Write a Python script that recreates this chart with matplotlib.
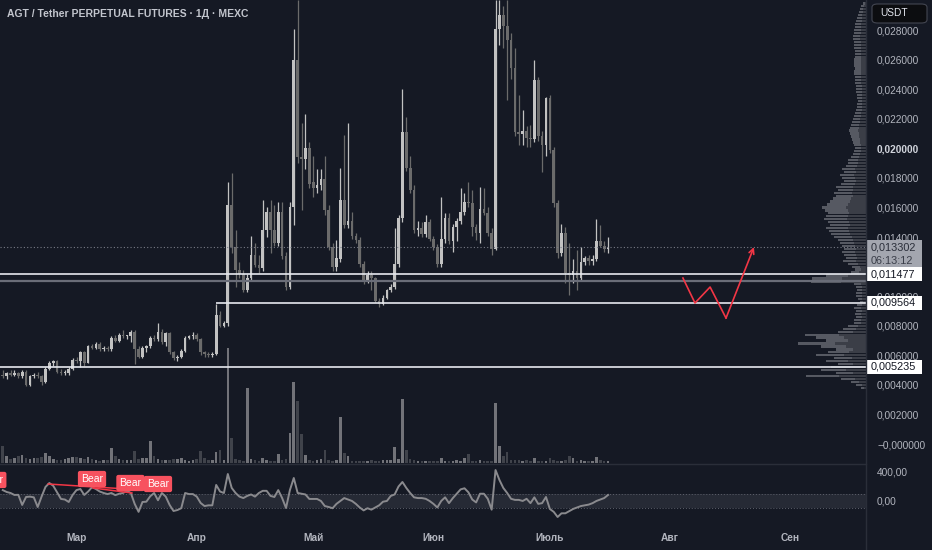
import numpy as np
import pandas as pd
import matplotlib
matplotlib.use('Agg')
import matplotlib.pyplot as plt
import matplotlib.dates as mdates
import matplotlib.transforms as mtransforms
from matplotlib.patches import FancyBboxPatch, Rectangle
from matplotlib.lines import Line2D

plt.rcParams['font.family'] = ['Liberation Sans', 'DejaVu Sans']

# --- данные (дневные свечи AGT/USDT, 10 фев - 16 июл) ---
start_date = '2025-02-10'
opens = [.0047, .0046, .0048, .0047, .0048, .0046, .0049, .0040, .0046, .0047,
         .0046, .0042, .0051, .0055, .0056, .0049, .0048, .0048, .0051,
         .0057, .0056, .0062, .0055, .0066, .0065, .0068, .0064, .0065, .0064,
         .0072, .0070, .0074, .0073, .0073, .0076, .0064, .0059, .0065, .0066,
         .0072, .0071, .0076, .0069, .0075, .0062, .0058, .0059, .0063, .0072,
         .0073, .0074, .0071, .0062, .0061, .0060, .0061, .0087, .0080, .0082,
         .0162, .0133, .0118, .0115, .0104, .0112, .0128, .0121, .0119, .0145,
         .0157, .0145, .0136, .0157, .0127, .0106, .0160, .0260, .0194, .0193,
         .0200, .0177, .0173, .0175, .0179, .0158, .0133, .0120, .0125, .0165,
         .0148, .0151, .0141, .0138, .0122, .0111, .0114, .0112, .0097, .0095,
         .0099, .0104, .0106, .0122, .0153, .0211, .0187, .0172, .0145, .0146,
         .0142, .0150, .0139, .0133, .0122, .0139, .0153, .0137, .0147, .0151,
         .0157, .0164, .0163, .0147, .0143, .0159, .0156, .0143, .0132, .0281,
         .0290, .0283, .0273, .0254, .0211, .0210, .0212, .0207, .0206, .0246,
         .0208, .0202, .0234, .0199, .0163, .0129, .0143, .0116, .0114, .0117,
         .0112, .0123, .0126, .0124, .0125, .0137, .0134, .0132]
highs = [.0050, .0049, .0050, .0050, .0049, .0050, .0050, .0047, .0048, .0049,
         .0047, .0052, .0056, .0057, .0057, .0051, .0050, .0052, .0058,
         .0059, .0063, .0063, .0067, .0068, .0069, .0069, .0066, .0066, .0073,
         .0074, .0075, .0077, .0074, .0077, .0077, .0066, .0066, .0067, .0073,
         .0074, .0082, .0078, .0076, .0076, .0063, .0060, .0064, .0073, .0074,
         .0076, .0075, .0072, .0063, .0062, .0062, .0095, .0090, .0083, .0177,
         .0183, .0145, .0123, .0118, .0115, .0141, .0136, .0128, .0165, .0160,
         .0165, .0162, .0164, .0164, .0130, .0164, .0281, .0300, .0217, .0223,
         .0204, .0195, .0186, .0186, .0195, .0162, .0136, .0138, .0187, .0209,
         .0217, .0157, .0143, .0140, .0124, .0117, .0117, .0113, .0099, .0101,
         .0105, .0108, .0146, .0155, .0240, .0221, .0195, .0175, .0151, .0150,
         .0155, .0152, .0141, .0135, .0167, .0156, .0156, .0149, .0153, .0173,
         .0170, .0177, .0172, .0149, .0174, .0173, .0160, .0146, .0300, .0300,
         .0296, .0300, .0278, .0268, .0236, .0226, .0215, .0216, .0260, .0248,
         .0212, .0235, .0236, .0201, .0165, .0149, .0147, .0136, .0125, .0131,
         .0133, .0127, .0128, .0128, .0152, .0148, .0137, .0140]
lows = [.0045, .0044, .0046, .0046, .0045, .0045, .0039, .0039, .0045, .0045,
        .0040, .0041, .0050, .0053, .0048, .0047, .0047, .0047, .0050,
        .0055, .0052, .0053, .0055, .0064, .0064, .0063, .0063, .0063, .0063,
        .0069, .0069, .0072, .0071, .0069, .0054, .0058, .0058, .0062, .0065,
        .0070, .0070, .0068, .0066, .0061, .0057, .0056, .0058, .0062, .0071,
        .0071, .0070, .0060, .0059, .0059, .0059, .0060, .0079, .0079, .0080,
        .0129, .0106, .0112, .0103, .0103, .0110, .0120, .0116, .0117, .0140,
        .0129, .0134, .0134, .0125, .0104, .0105, .0148, .0190, .0158, .0186,
        .0173, .0167, .0170, .0172, .0155, .0131, .0117, .0117, .0123, .0146,
        .0146, .0139, .0136, .0120, .0108, .0109, .0104, .0096, .0093, .0094,
        .0098, .0103, .0105, .0120, .0150, .0185, .0170, .0143, .0141, .0140,
        .0140, .0137, .0131, .0120, .0120, .0136, .0135, .0130, .0137, .0149,
        .0155, .0160, .0141, .0138, .0136, .0155, .0141, .0128, .0131, .0270,
        .0268, .0233, .0247, .0208, .0202, .0202, .0201, .0201, .0204, .0205,
        .0184, .0195, .0197, .0160, .0126, .0127, .0109, .0101, .0109, .0104,
        .0110, .0121, .0121, .0121, .0124, .0133, .0130, .0129]
closes = [.0046, .0048, .0047, .0048, .0046, .0049, .0040, .0046, .0047, .0046,
          .0042, .0051, .0055, .0056, .0049, .0048, .0048, .0051, .0057,
          .0056, .0062, .0055, .0066, .0065, .0068, .0064, .0065, .0064, .0072,
          .0070, .0074, .0073, .0073, .0076, .0064, .0059, .0065, .0066, .0072,
          .0071, .0076, .0069, .0075, .0062, .0058, .0059, .0063, .0072, .0073,
          .0074, .0071, .0062, .0061, .0060, .0061, .0087, .0080, .0082, .0162,
          .0133, .0118, .0115, .0104, .0112, .0128, .0121, .0119, .0145, .0157,
          .0145, .0136, .0157, .0127, .0106, .0160, .0260, .0194, .0193, .0200,
          .0176, .0173, .0175, .0179, .0158, .0133, .0120, .0126, .0165, .0148,
          .0151, .0141, .0138, .0122, .0111, .0114, .0112, .0097, .0095, .0099,
          .0104, .0106, .0122, .0153, .0211, .0187, .0172, .0145, .0146, .0142,
          .0150, .0139, .0133, .0122, .0139, .0153, .0137, .0147, .0151, .0157,
          .0164, .0163, .0147, .0143, .0159, .0156, .0143, .0132, .0281, .0290,
          .0283, .0273, .0254, .0211, .0210, .0212, .0207, .0206, .0246, .0208,
          .0202, .0234, .0199, .0163, .0129, .0143, .0116, .0114, .0117, .0112,
          .0123, .0126, .0124, .0125, .0137, .0134, .0132, .0133]
volumes = [17, 7, 4, 5, 7, 8, 5, 4, 5, 5, 6, 10, 7, 4, 3, 3, 4, 5, 6,
           6, 5, 4, 6, 4, 3, 2, 3, 3, 15, 7, 4, 3, 3, 3, 12, 4, 5, 5, 22,
           7, 4, 3, 3, 3, 4, 4, 5, 3, 2, 3, 4, 12, 5, 3, 3, 11, 13, 3, 115,
           25, 4, 3, 2, 75, 4, 3, 2, 5, 3, 2, 2, 9, 3, 4, 30, 81, 62, 29, 8,
           3, 2, 3, 4, 13, 3, 2, 3, 46, 10, 7, 2, 2, 2, 2, 2, 3, 2, 2, 3,
           3, 3, 16, 4, 64, 13, 4, 3, 2, 2, 2, 2, 2, 2, 5, 2, 2, 2, 3, 2,
           5, 9, 2, 2, 3, 2, 2, 2, 60, 17, 7, 11, 3, 3, 3, 2, 3, 2, 5, 2,
           2, 2, 5, 3, 2, 2, 3, 7, 5, 2, 3, 2, 2, 2, 6, 3, 2, 2]
cci = [150, 124, 110, 83, 85, -55, 55, 60, 50, -83, 60, 193, 248, 210, 120, 28, 20, -14, 83,
       150, 165, 83, 130, 190, 165, 130, 110, 95, 110, 80, 100, 110, 140, 110, -41, -150,
       -14, -10, 65, 110, 10, 110, 60, -55, -138, -125, -100, 110, 95, 95, 60, -28, -70,
       -60, -60, 221, 130, 110, 372, 180, 110, 60, 40, 70, 90, 60, 110, 140, 140, 70, 55,
       150, 40, -97, 150, 317, 110, 100, 90, 28, 28, 28, 0, -70, -83, -100, -40, 0, 40,
       20, 0, -40, -90, -130, -100, -120, -90, -60, -10, 0, 70, 90, 200, 262, 180, 110,
       50, 40, 40, 30, 0, -40, -90, 0, 50, -30, 40, 100, 160, 175, 120, 20, -20, 100,
       100, 30, -120, 427, 290, 180, 110, 30, 15, 15, 0, 30, -30, 50, -40, -30, 55,
       -110, -150, -221, -170, -170, -140, -110, -90, -70, -60, -50, -30, 0, 20, 40, 83]

# профиль объёма: уровни цены 0.0038 ... 0.0298 с шагом 0.0002
profile_prices = [round(0.0038 + 0.0002 * i, 4) for i in range(131)]
profile_vols = [5, 10, 15, 25, 60, 30, 45, 35, 28, 40, 32, 50, 38, 30, 45, 68, 40, 50, 61,
                28, 23, 18, 12, 12, 10, 11, 10, 12, 9, 6, 8, 10, 10, 9, 10, 12, 55, 54,
                40, 15, 11, 14, 18, 23, 20, 22, 24, 22, 24, 26, 28, 32, 35, 37, 40, 36,
                38, 42, 40, 38, 41, 44, 39, 36, 33, 30, 32, 28, 30, 25, 22, 24, 26, 22,
                24, 20, 18, 18, 15, 13, 12, 11, 12, 13, 14, 15, 16, 17, 16, 15, 14, 13,
                12, 11, 10, 9, 9, 8, 9, 9, 10, 10, 10, 11, 11, 11, 12, 12, 11, 12, 12,
                12, 11, 11, 11, 12, 12, 12, 13, 13, 12, 12, 11, 11, 10, 9, 8, 7, 6, 5, 3]

last_price = 0.013302
countdown = '06:13:12'
levels = [0.011477, 0.009564, 0.005235]
level_gray = 0.01102
level_mid_start = '2025-04-06'

# нарисованная траектория (дни от 1 марта, цена)
path_days = [156.3, 159.4, 163.3, 167.4, 174.6]
path_prices = [0.01123, 0.00954, 0.01062, 0.00852, 0.01332]

bear_days = [-21.7, 4.0, 13.9, 21.0]
bear_vals = [290, 303, 248, 234]
div_lines = [((-7.3, 234), (21.0, 138)), ((4.25, 179), (14.3, 110))]

month_ticks = ['2025-03-01', '2025-04-01', '2025-05-01', '2025-06-01',
               '2025-07-01', '2025-08-01', '2025-09-01']
month_labels = ['Мар', 'Апр', 'Май', 'Июн', 'Июль', 'Авг', 'Сен']
price_ticks = [0.002 * i for i in range(15)]

# --- оформление ---
BG = '#151924'
TXT = '#b2b5be'
UP, DOWN = '#c2c2c2', '#6b6b6b'
VUP, VDOWN = '#727379', '#40434b'
W, H = 932, 550

dates = pd.date_range(start_date, periods=len(closes), freq='D')
x = mdates.date2num(dates)
o, h, l, c = map(np.array, (opens, highs, lows, closes))
up = c >= o

mar1 = mdates.date2num(pd.Timestamp('2025-03-01'))
px_day = 3.88
xlim = (mar1 - 76.5 / px_day, mar1 + (866 - 76.5) / px_day)
ylim = (-0.00128, 0.03003)
px_price = 14786  # пикселей на единицу цены

fig = plt.figure(figsize=(W / 100, H / 100), dpi=100, facecolor=BG)
main_rect = [0, 1 - 463 / H, 866 / W, 463 / H]

ax_vol = fig.add_axes(main_rect, facecolor=BG)
ax_prof = fig.add_axes([766 / W, 1 - 463 / H, 100 / W, 463 / H])
ax = fig.add_axes(main_rect)
ax_osc = fig.add_axes([0, 1 - 522 / H, 866 / W, 58 / H], facecolor=BG)

for a in (ax_vol, ax_prof, ax, ax_osc):
    for s in a.spines.values():
        s.set_visible(False)
ax.patch.set_visible(False)
ax_prof.patch.set_visible(False)

# объём
ax_vol.bar(x, volumes, width=0.68, color=np.where(up, VUP, VDOWN), linewidth=0)
ax_vol.set_xlim(xlim)
ax_vol.set_ylim(0, 463)
ax_vol.axis('off')

# профиль объёма
pv = np.array(profile_vols)
ax_prof.barh(profile_prices, pv, height=0.00015, color='#565962', linewidth=0)
ax_prof.barh(profile_prices, pv * 0.45, height=0.00015, color='#3b3e47', linewidth=0)
ax_prof.set_xlim(100, 0)
ax_prof.set_ylim(ylim)
ax_prof.axis('off')

# свечи
ax.vlines(x, l, h, colors=np.where(up, UP, DOWN), linewidth=0.9)
body = np.maximum(np.abs(c - o), 0.00005)
ax.bar(x, body, bottom=np.minimum(o, c), width=0.7,
       color=np.where(up, UP, DOWN), linewidth=0)

# уровни
ax.axhline(levels[0], color='#e6e8ee', lw=1.2)
ax.axhline(level_gray, color='#6a6d78', lw=1.6)
ax.hlines(levels[1], mdates.date2num(pd.Timestamp(level_mid_start)), xlim[1],
          color='#e6e8ee', lw=1.2)
ax.axhline(levels[2], color='#e6e8ee', lw=1.2)
ax.axhline(last_price, color='#787b86', lw=0.8, ls=(0, (1, 2)))

# траектория
px_ = [mar1 + d for d in path_days]
ax.plot(px_[:-1], path_prices[:-1], color='#f23645', lw=1.2)
ax.annotate('', xy=(px_[-1], path_prices[-1]), xytext=(px_[-2], path_prices[-2]),
            arrowprops=dict(arrowstyle='->', color='#f23645', lw=1.2,
                            shrinkA=0, shrinkB=0, mutation_scale=9))

ax.set_xlim(xlim)
ax.set_ylim(ylim)
ax.set_xticks([])
ax.yaxis.tick_right()
ax.set_yticks(price_ticks)
ax.set_yticklabels(['−0,000000' if p == 0 else f'{p:.6f}'.replace('.', ',')
                    for p in price_ticks])
ax.tick_params(axis='y', length=0, pad=8, labelsize=7.3, labelcolor=TXT)
for t in ax.get_yticklabels():
    if t.get_text() == '0,020000':
        t.set_fontweight('bold')
        t.set_color('#d1d4dc')

tag_tr = mtransforms.blended_transform_factory(ax.transAxes, ax.transData)


def price_tag(price, text, fc, tc, dy_px=0):
    yc = price - dy_px / px_price
    half = 7 / px_price
    ax.add_patch(Rectangle((867 / 866, yc - half), 55 / 866, 2 * half, transform=tag_tr,
                           fc=fc, ec='none', clip_on=False, zorder=9))
    ax.text(871 / 866, yc, text, transform=tag_tr, ha='left', va='center',
            fontsize=7.8, color=tc, zorder=10, clip_on=False)


price_tag(last_price, f'{last_price:.6f}'.replace('.', ','), '#a3a6af', '#2a2e39')
price_tag(last_price, countdown, '#a3a6af', '#3a3e49', dy_px=14)
for lv in levels:
    price_tag(lv, f'{lv:.6f}'.replace('.', ','), '#ffffff', '#131722')

# осциллятор
ax_osc.axhspan(-100, 100, color='#262a35', lw=0)
ax_osc.axhline(100, color='#5d606b', lw=0.7, ls=(0, (1, 2)))
ax_osc.axhline(-100, color='#5d606b', lw=0.7, ls=(0, (1, 2)))
ax_osc.plot(x, cci, color='#8a8a8e', lw=1.4)
for (d0, v0), (d1, v1) in div_lines:
    ax_osc.plot([mar1 + d0, mar1 + d1], [v0, v1], color='#f23645', lw=1.1)
for d, v in zip(bear_days, bear_vals):
    ax_osc.text(mar1 + d, v, 'Bear', ha='center', va='center', fontsize=7.5,
                color='white', clip_on=True, zorder=6,
                bbox=dict(boxstyle='round,pad=0.3,rounding_size=0.2', fc='#f7525f', ec='none'))
ax_osc.set_xlim(xlim)
ax_osc.set_ylim(-290, 510)
ax_osc.yaxis.tick_right()
ax_osc.set_yticks([400, 0])
ax_osc.set_yticklabels(['400,00', '0,00'])
ax_osc.tick_params(axis='y', length=0, pad=8, labelsize=7.3, labelcolor=TXT)
ax_osc.set_xticks(mdates.date2num(pd.to_datetime(month_ticks)))
ax_osc.set_xticklabels(month_labels)
ax_osc.tick_params(axis='x', length=0, pad=8, labelsize=7.3, labelcolor=TXT)
for t in ax_osc.get_xticklabels():
    t.set_fontweight('bold')

# разделители
fig.add_artist(Line2D([866 / W, 866 / W], [0, 1], color='#2a2e39', lw=1))
fig.add_artist(Line2D([0, 866 / W], [1 - 463.5 / H, 1 - 463.5 / H], color='#2a2e39', lw=1))

# заголовок и USDT
fig.text(7 / W, 1 - 14 / H, 'AGT / Tether PERPETUAL FUTURES · 1Д · MEXC',
         ha='left', va='center', fontsize=7.5, color='#c3c6ce', fontweight='bold')
fig.add_artist(FancyBboxPatch((872 / W, 1 - 23 / H), 55 / W, 19 / H,
                              boxstyle='round,pad=0,rounding_size=0.006',
                              fc='#0c0d10', ec='#434651', lw=0.8, zorder=20))
fig.text(880 / W, 1 - 13.5 / H, 'USDT', ha='left', va='center', fontsize=7.3,
         color='#e0e3eb', zorder=21)

fig.savefig('out.png', dpi=100, facecolor=BG)
